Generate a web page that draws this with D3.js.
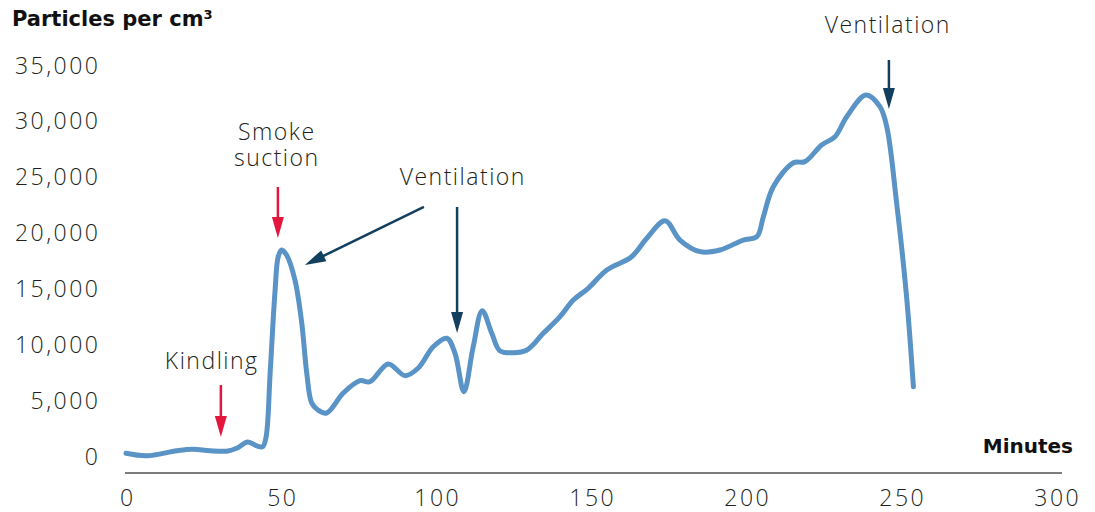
<!DOCTYPE html>
<html>
<head>
<meta charset="utf-8">
<script src="https://cdn.jsdelivr.net/npm/d3@7/dist/d3.min.js"></script>
<style>
  html, body { margin: 0; padding: 0; background: #fff; }
  svg { display: block; }
</style>
</head>
<body>
<svg id="chart" width="1095" height="512"></svg>
<script>
// ---- data ----
const minutes = [0, 6.7, 16.4, 21.6, 27.1, 32.9, 35.7, 39.3, 42.2, 44.1, 45.2, 46.5, 48.1, 49.1, 50.2, 51.8, 54.5, 56.7, 58.3, 59.9, 61.9, 64.7, 70.1, 75.5, 78.7, 84.6, 90.0, 94.3, 99.1, 103.5, 106.1, 109.0, 112.0, 114.9, 118.0, 120.6, 124.9, 129.3, 134.6, 140.0, 144.3, 149.1, 155.1, 163.1, 168.0, 173.9, 178.7, 185.2, 191.6, 199.1, 203.5, 205.6, 208.8, 215.3, 219.0, 224.4, 228.7, 232.5, 238.7, 243.2, 245.4, 248.6, 251.8, 254.0];
const particles = [240, 20, 470, 600, 470, 450, 690, 1250, 900, 830, 1730, 7430, 14860, 17840, 18440, 17990, 15750, 11900, 7430, 4750, 4120, 3850, 5640, 6740, 6650, 8240, 7190, 7880, 9780, 10540, 9220, 5760, 9780, 13000, 10980, 9430, 9250, 9490, 10980, 12470, 13960, 15010, 16650, 17840, 19490, 21060, 19330, 18290, 18440, 19330, 19630, 21420, 24100, 26250, 26350, 27840, 28580, 30370, 32310, 31270, 29480, 22620, 14260, 6200];

const xTicks = [0, 50, 100, 150, 200, 250, 300];
const yTicks = [0, 5000, 10000, 15000, 20000, 25000, 30000, 35000];

const yTitle = "Particles per cm³";
const xTitle = "Minutes";

// annotations (in data units)
const arrowColors = ["#e3173e", "#133f5e"];
const arrows = [
  { from: [30.6, 6350], to: [30.6, 1700], color: 0 },
  { from: [49.0, 24080], to: [49.0, 19510], color: 0 },
  { from: [106.8, 22290], to: [106.8, 11010], color: 1 },
  { from: [96.1, 22290], to: [57.7, 17100], color: 1 },
  { from: [246.1, 35450], to: [246.1, 31060], color: 1 }
];
const labelTexts = ["Kindling", "Smoke", "suction", "Ventilation", "Ventilation"];
const labelMinutes = [27.4, 48.4, 48.4, 108.4, 245.5];
const labelValues = [7790, 28280, 25960, 24255, 37860];

// ---- chart ----
const svg = d3.select("#chart");
const x = d3.scaleLinear().domain([0, 300]).range([126, 1056]);
const y = d3.scaleLinear().domain([0, 35000]).range([456, 65]);

const lightFont = "'Open Sans', 'Lato', sans-serif";
const boldFont = "'DejaVu Sans', sans-serif";
const numSpacing = 2.5, wordSpacing = 1.5;

// y axis labels
const yAxis = svg.append("g")
  .attr("transform", `translate(${98 + numSpacing},0)`)
  .call(d3.axisLeft(y).tickValues(yTicks).tickSize(0).tickPadding(0)
    .tickFormat(d3.format(",")));
yAxis.select(".domain").remove();
yAxis.selectAll("text")
  .style("font-family", lightFont)
  .style("font-weight", 300)
  .style("font-size", "23px")
  .style("letter-spacing", numSpacing + "px")
  .attr("fill", "#231f20")
  .attr("dy", "0.35em");

// x axis
svg.append("line")
  .attr("x1", x(0) - 1).attr("x2", x(300) + 6)
  .attr("y1", 473).attr("y2", 473)
  .attr("stroke", "#7d7d7d").attr("stroke-width", 2);
const xAxis = svg.append("g")
  .attr("transform", "translate(0,473)")
  .call(d3.axisBottom(x).tickValues(xTicks).tickSize(0).tickPadding(0));
xAxis.select(".domain").remove();
xAxis.selectAll("text")
  .style("font-family", lightFont)
  .style("font-weight", 300)
  .style("font-size", "23px")
  .style("letter-spacing", numSpacing + "px")
  .attr("dx", numSpacing / 2)
  .attr("fill", "#231f20")
  .attr("dy", null)
  .attr("y", 33);

// titles
svg.append("text")
  .attr("x", 12).attr("y", 26)
  .style("font-family", boldFont)
  .style("font-weight", 700).style("font-size", "21px")
  .attr("fill", "#111")
  .text(yTitle);
svg.append("text")
  .attr("x", 1073).attr("y", 453)
  .attr("text-anchor", "end")
  .style("font-family", boldFont)
  .style("font-weight", 700).style("font-size", "20px")
  .attr("fill", "#111")
  .text(xTitle);

// line
const line = d3.line()
  .x((d, i) => x(minutes[i]))
  .y((d, i) => y(particles[i]))
  .curve(d3.curveCatmullRom.alpha(0.5));
svg.append("path")
  .datum(particles)
  .attr("d", line)
  .attr("fill", "none")
  .attr("stroke", "#5a93c6")
  .attr("stroke-width", 5)
  .attr("stroke-linecap", "round")
  .attr("stroke-linejoin", "round");

// arrows
const headLen = 21, headHalf = 6;
arrows.forEach(a => {
  const x1 = x(a.from[0]), y1 = y(a.from[1]);
  const x2 = x(a.to[0]), y2 = y(a.to[1]);
  const dx = x2 - x1, dy = y2 - y1;
  const len = Math.hypot(dx, dy);
  const ux = dx / len, uy = dy / len;
  const bx = x2 - ux * headLen, by = y2 - uy * headLen;
  const col = arrowColors[a.color];
  svg.append("line")
    .attr("x1", x1).attr("y1", y1)
    .attr("x2", bx + ux * 2).attr("y2", by + uy * 2)
    .attr("stroke", col).attr("stroke-width", 2.5);
  svg.append("path")
    .attr("d", `M${x2},${y2}L${bx - uy * headHalf},${by + ux * headHalf}L${bx + uy * headHalf},${by - ux * headHalf}Z`)
    .attr("fill", col);
});

// labels
labelTexts.forEach((s, i) => {
  svg.append("text")
    .attr("x", x(labelMinutes[i]) + wordSpacing / 2).attr("y", y(labelValues[i]))
    .attr("text-anchor", "middle")
    .style("font-family", lightFont)
    .style("font-weight", 300).style("font-size", "23px")
    .style("letter-spacing", wordSpacing + "px")
    .attr("fill", "#231f20")
    .text(s);
});
</script>
</body>
</html>
